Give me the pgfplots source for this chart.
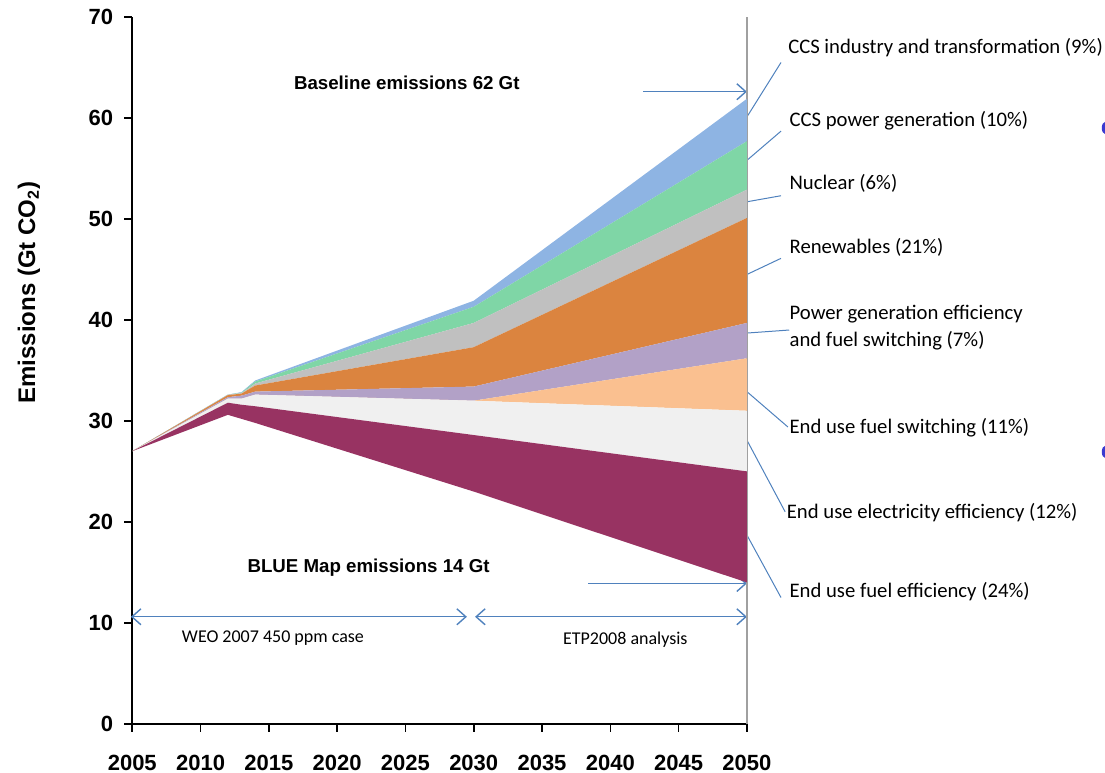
\documentclass[border=0pt]{standalone}
\usepackage{fontspec}
\setmainfont{Liberation Sans}
\newfontfamily\calfont{Carlito}
\usepackage{pgfplots}
\usepackage{pgfplotstable}
\pgfplotsset{compat=1.18}
\usepgfplotslibrary{fillbetween}
\usetikzlibrary{arrows.meta}

\definecolor{cMaroon}{HTML}{983362}
\definecolor{cLtGrey}{HTML}{F0F0F0}
\definecolor{cPeach}{HTML}{FAC090}
\definecolor{cLav}{HTML}{B2A1C7}
\definecolor{cOrange}{HTML}{DB843F}
\definecolor{cGrey}{HTML}{C0C0C0}
\definecolor{cGreen}{HTML}{7FD6A6}
\definecolor{cBlue}{HTML}{8EB4E3}
\definecolor{cArrow}{HTML}{4F81BD}
\definecolor{cDot}{HTML}{3A3AD0}
\definecolor{cEdge}{HTML}{A0A0A0}

% increments stacked from bottom (BLUE Map emissions at the base)
\pgfplotstableread{
year base  fueleff eleceff fuelsw pgen ren  nuc  ccsp ccsi
2005 27.0  0.0     0.0     0.0    0.0  0.0  0.0  0.0  0.0
2012 30.6  1.2     0.4     0.0    0.15 0.2  0.05 0.0  0.0
2013 30.2  1.4     0.6     0.0    0.3  0.2  0.05 0.05 0.05
2014 29.8  1.65    1.15    0.0    0.3  0.6  0.2  0.2  0.1
2030 23.0  5.6     3.4     0.0    1.4  3.9  2.4  1.6  0.6
2050 14.0  11.0    6.0     5.2    3.5  10.4 2.8  4.8  4.2
}\emis

\begin{document}
\begin{tikzpicture}
\begin{axis}[
    at={(0,0)}, anchor=south west,
    scale only axis,
    width=307.4pt, height=353.5pt,
    xmin=2005, xmax=2050, ymin=0, ymax=70,
    axis x line*=bottom, axis y line*=left,
    axis line style={line width=1pt},
    xtick={2005,2010,...,2050}, ytick={0,10,...,70},
    tick align=outside, tick style={black, line width=0.8pt},
    major tick length=4pt,
    /pgf/number format/1000 sep={},
    /pgf/number format/assume math mode=true,
    ticklabel style={font=\bfseries\fontsize{11}{12}\selectfont},
    xticklabel style={inner sep=0pt, yshift=-11.6pt},
    yticklabel style={xshift=-2pt},
    ylabel={\bfseries Emissions (Gt CO\textsubscript{2})},
    every axis y label/.style={at={(rel axis cs:-0.168,0.61)}, rotate=90, anchor=center, font=\fontsize{12}{14}\selectfont},
    stack plots=y,
    clip=false,
]
\addplot[draw=none, forget plot] table[x=year, y=base] {\emis};
\addplot[draw=none, fill=cMaroon] table[x=year, y=fueleff] {\emis} \closedcycle;
\addplot[draw=none, fill=cLtGrey] table[x=year, y=eleceff] {\emis} \closedcycle;
\addplot[draw=none, fill=cPeach] table[x=year, y=fuelsw] {\emis} \closedcycle;
\addplot[draw=none, fill=cLav] table[x=year, y=pgen] {\emis} \closedcycle;
\addplot[draw=none, fill=cOrange] table[x=year, y=ren] {\emis} \closedcycle;
\addplot[draw=none, fill=cGrey] table[x=year, y=nuc] {\emis} \closedcycle;
\addplot[draw=none, fill=cGreen] table[x=year, y=ccsp] {\emis} \closedcycle;
\addplot[draw=none, fill=cBlue] table[x=year, y=ccsi] {\emis} \closedcycle;

% right border line
\draw[cEdge, line width=0.7pt] (axis cs:2050,0) -- (axis cs:2050,70);

% annotations
\node[font=\bfseries\fontsize{9.35}{11}\selectfont] at (axis cs:2025.1,63.5) {Baseline emissions 62 Gt};
\node[font=\bfseries\fontsize{9.35}{11}\selectfont] at (axis cs:2022.3,15.5) {BLUE Map emissions 14 Gt};
\draw[cArrow, line width=0.7pt, -{Straight Barb[length=4.5pt,width=8pt]}] (axis cs:2042.4,62.6) -- (axis cs:2050,62.6);
\draw[cArrow, line width=0.7pt, -{Straight Barb[length=4.5pt,width=8pt]}] (axis cs:2038.4,13.9) -- (axis cs:2050,13.9);
\draw[cArrow, line width=0.7pt, {Straight Barb[length=4.5pt,width=8pt]}-{Straight Barb[length=4.5pt,width=8pt]}] (axis cs:2004.9,10.6) -- (axis cs:2029.5,10.6);
\draw[cArrow, line width=0.7pt, {Straight Barb[length=4.5pt,width=8pt]}-{Straight Barb[length=4.5pt,width=8pt]}] (axis cs:2030.1,10.6) -- (axis cs:2050,10.6);
\node[font=\calfont\fontsize{9}{10}\selectfont] at (axis cs:2015.3,8.5) {WEO 2007 450 ppm case};
\node[font=\calfont\fontsize{9}{10}\selectfont] at (axis cs:2041.1,8.3) {ETP2008 analysis};

% leader lines
\draw[cArrow, line width=0.5pt] (axis cs:2050,60.1) -- (axis cs:2052.5,65.5);
\draw[cArrow, line width=0.5pt] (axis cs:2050,55.8) -- (axis cs:2052.5,58.7);
\draw[cArrow, line width=0.5pt] (axis cs:2050,51.7) -- (axis cs:2052.5,52.3);
\draw[cArrow, line width=0.5pt] (axis cs:2050,44.5) -- (axis cs:2052.5,46.1);
\draw[cArrow, line width=0.5pt] (axis cs:2050,38.7) -- (axis cs:2053.1,39.0);
\draw[cArrow, line width=0.5pt] (axis cs:2050,32.9) -- (axis cs:2053.0,29.4);
\draw[cArrow, line width=0.5pt] (axis cs:2050,28.1) -- (axis cs:2052.8,21.0);
\draw[cArrow, line width=0.5pt] (axis cs:2050,18.7) -- (axis cs:2052.5,12.5);

\node[font=\calfont\fontsize{10.35}{12}\selectfont, anchor=west, inner sep=0pt] at (axis cs:2053.0,67.0) {CCS industry and transformation (9\%)};
\node[font=\calfont\fontsize{10.35}{12}\selectfont, anchor=west, inner sep=0pt] at (axis cs:2053.1,59.7) {CCS power generation (10\%)};
\node[font=\calfont\fontsize{10.35}{12}\selectfont, anchor=west, inner sep=0pt] at (axis cs:2053.1,53.5) {Nuclear (6\%)};
\node[font=\calfont\fontsize{10.35}{12}\selectfont, anchor=west, inner sep=0pt] at (axis cs:2053.1,47.2) {Renewables (21\%)};
\node[font=\calfont\fontsize{10.35}{12}\selectfont, anchor=west, inner sep=0pt, align=left] at (axis cs:2053.1,39.2) {Power generation efficiency\\[1.5pt] and fuel switching (7\%)};
\node[font=\calfont\fontsize{10.35}{12}\selectfont, anchor=west, inner sep=0pt] at (axis cs:2053.1,29.3) {End use fuel switching (11\%)};
\node[font=\calfont\fontsize{10.35}{12}\selectfont, anchor=west, inner sep=0pt] at (axis cs:2052.9,20.9) {End use electricity efficiency (12\%)};
\node[font=\calfont\fontsize{10.35}{12}\selectfont, anchor=west, inner sep=0pt] at (axis cs:2053.1,13.1) {End use fuel efficiency (24\%)};
\end{axis}
% cropped bullets at the right edge
\fill[cDot] (486.5pt,301pt) arc[start angle=90, end angle=270, x radius=1.6pt, y radius=3pt] -- cycle;
\fill[cDot] (486.5pt,139pt) arc[start angle=90, end angle=270, x radius=1.6pt, y radius=3pt] -- cycle;
% page frame matching the reference proportions
\path (-66.15pt,-24.5pt) rectangle (486.5pt,362pt);
\end{tikzpicture}
\end{document}
